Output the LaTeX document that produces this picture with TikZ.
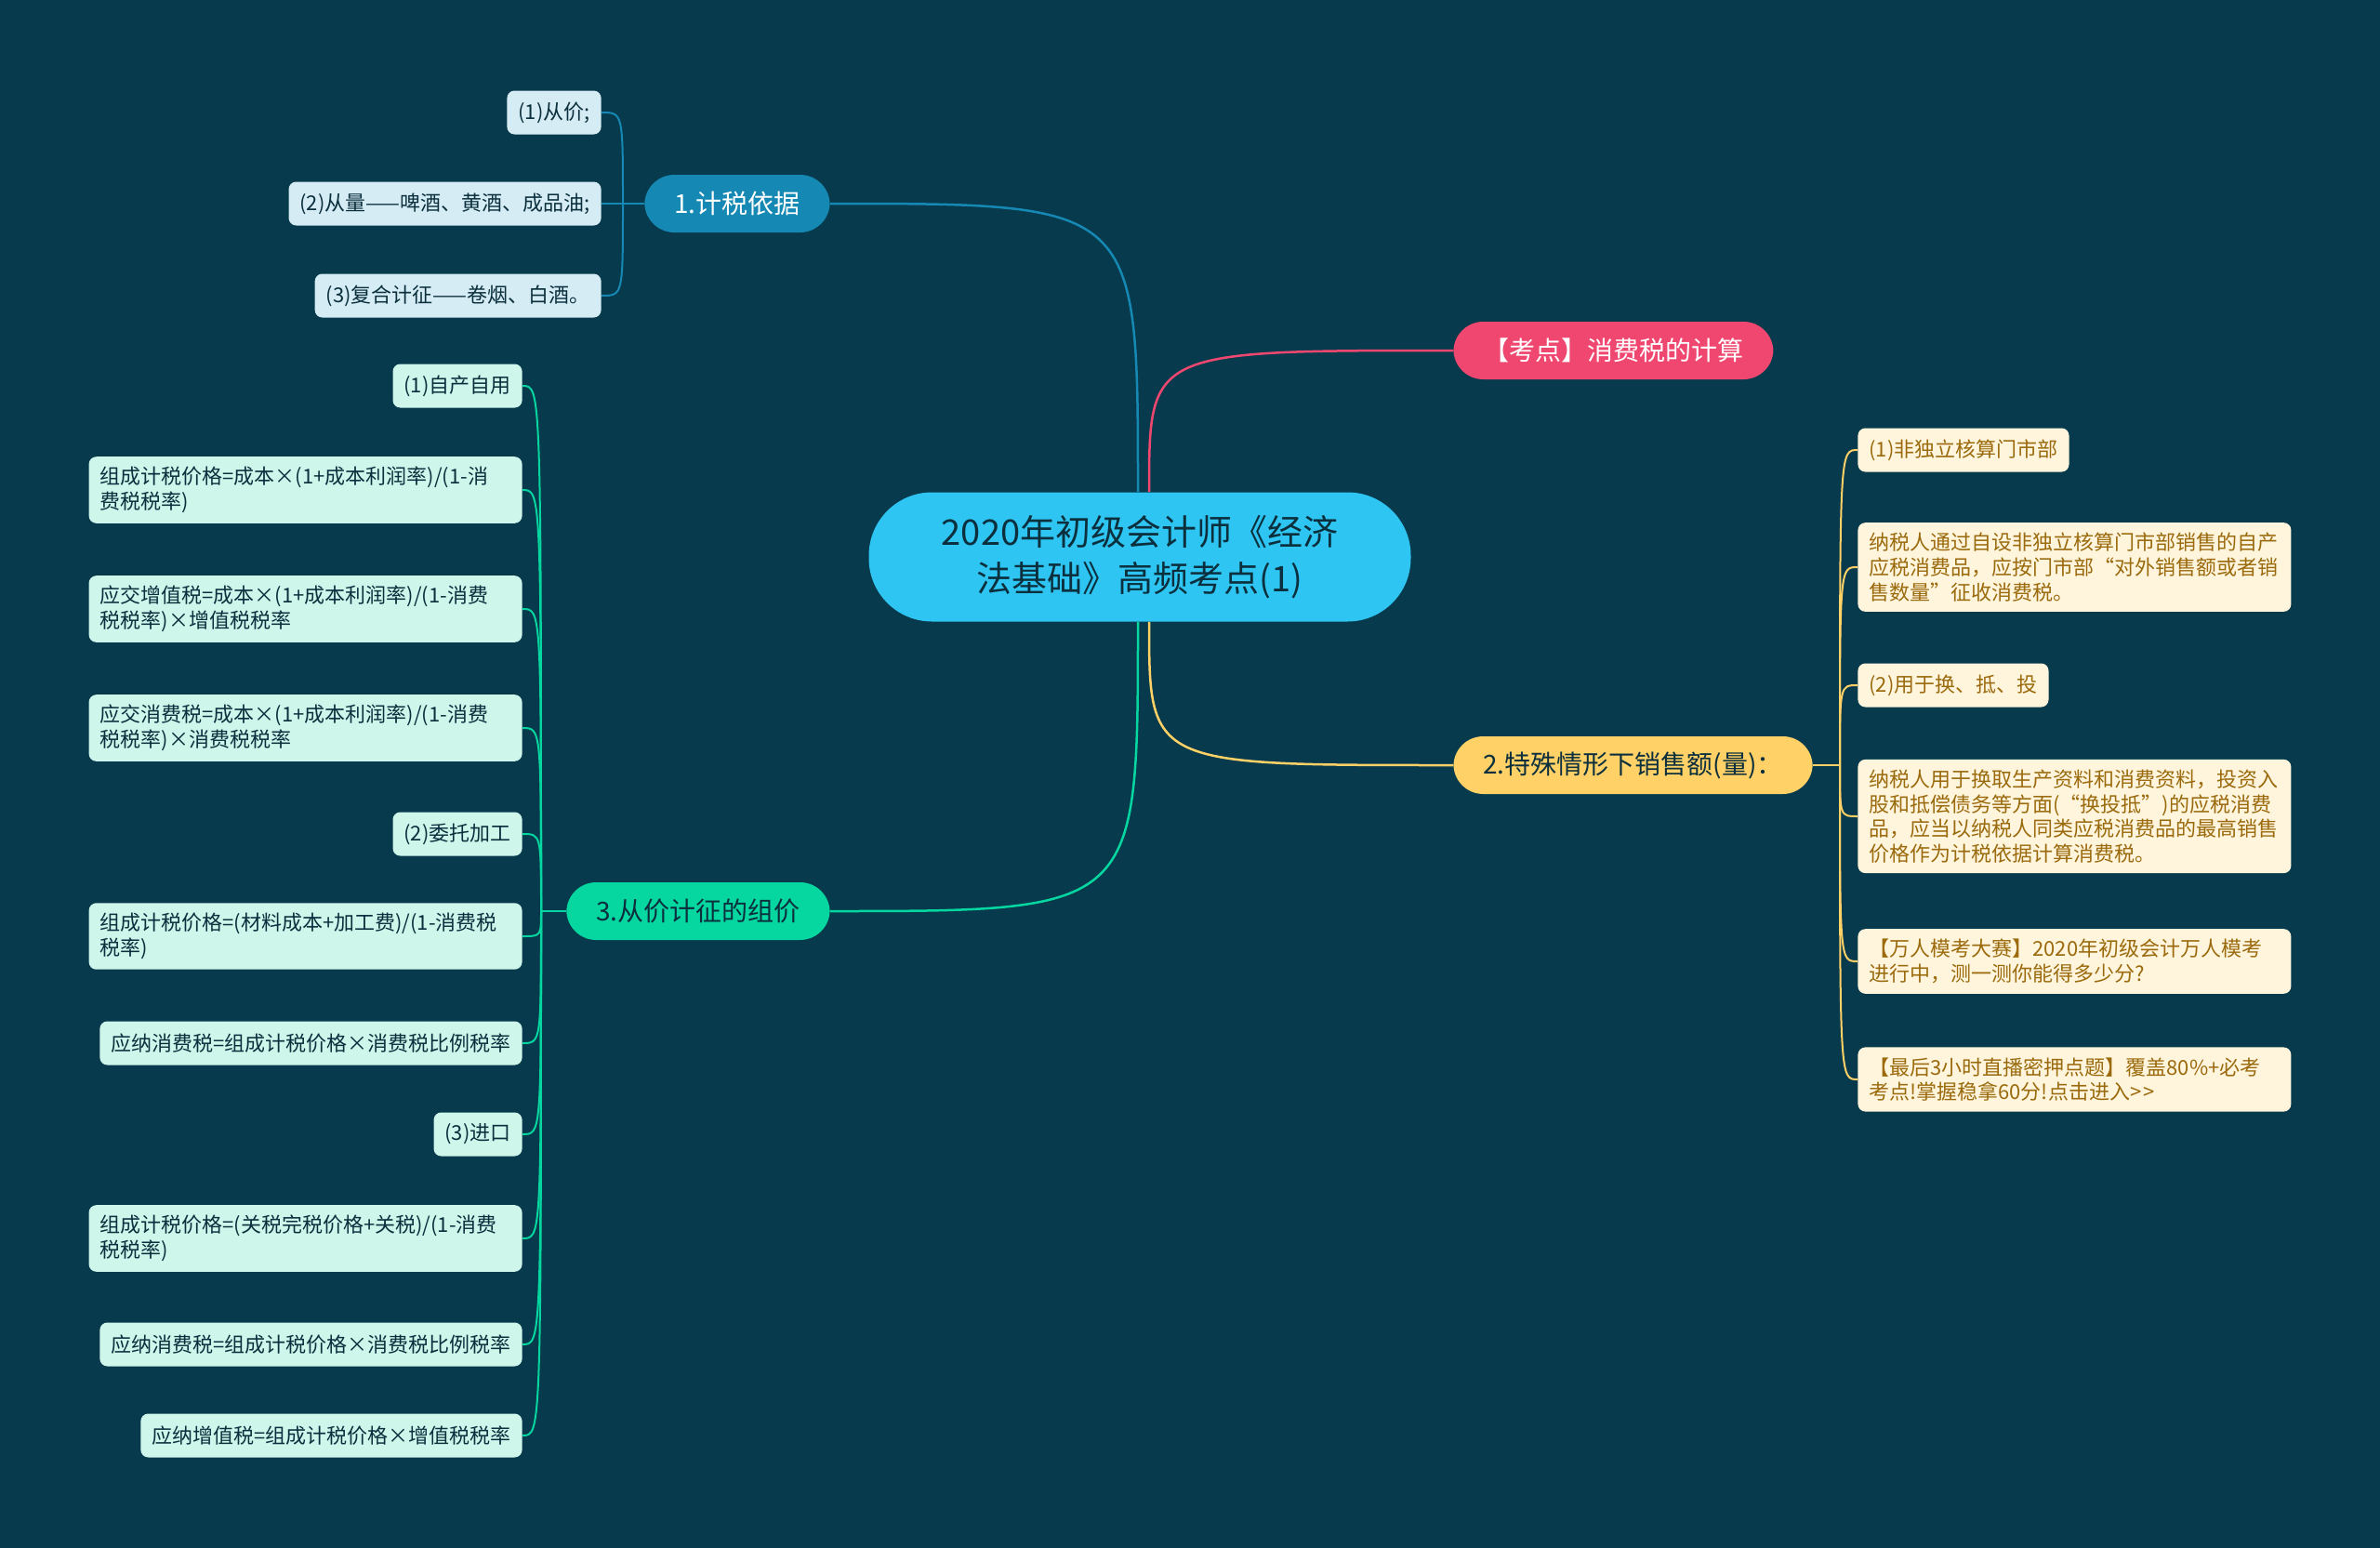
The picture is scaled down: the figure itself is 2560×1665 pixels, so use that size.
\documentclass[tikz,border=0pt]{standalone}
\usepackage{fontspec}
\setmainfont{Noto Sans CJK SC}
\usepackage{tikz}
\usepackage{xcolor}

\definecolor{bgc}{HTML}{073A4C}
\definecolor{rootc}{HTML}{2EC5F2}
\definecolor{inkc}{HTML}{0B2F3D}
\definecolor{bluec}{HTML}{1589B3}
\definecolor{pinkc}{HTML}{EF476F}
\definecolor{yelc}{HTML}{FFD166}
\definecolor{grnc}{HTML}{06D6A0}
\definecolor{blueleaf}{HTML}{D5ECF4}
\definecolor{grnleaf}{HTML}{CFF6EB}
\definecolor{yelleaf}{HTML}{FFF5DD}
\definecolor{goldc}{HTML}{9A6A0C}

\tikzset{
  topic/.style={rounded corners=16pt, minimum height=31pt, inner xsep=16pt,
    font=\fontsize{14pt}{16pt}\selectfont},
  leaf/.style={rounded corners=4pt, minimum height=23.5pt, inner xsep=6pt,
    inner ysep=5.5pt, align=left, font=\fontsize{11pt}{13.3pt}\selectfont},
  wide/.style={text width=221pt},
  link/.style={line width=1.25pt},
  twig/.style={line width=1pt},
}

\begin{document}
\begin{tikzpicture}[x=0.5pt,y=-0.5pt]
  \fill[bgc] (0,0) rectangle (2560,1665);
  \useasboundingbox (0,0) rectangle (2560,1665);

  % centre topic
  \node[fill=rootc, text=inkc, rounded corners=34pt, minimum width=291.5pt,
    minimum height=69.5pt, align=center, font=\fontsize{19pt}{25pt}\selectfont]
    (root) at (1226,599) {2020年初级会计师《经济\\法基础》高频考点(1)};

  % main topics
  \node[topic, fill=bluec, text=white, anchor=east] (jsyj) at (893,219) {1.计税依据};
  \node[topic, fill=pinkc, text=white, anchor=west] (kd) at (1563,377) {【考点】消费税的计算};
  \node[topic, fill=yelc, text=inkc, anchor=west] (tsqx) at (1563,823) {2.特殊情形下销售额(量)：};
  \node[topic, fill=grnc, text=inkc, anchor=east] (cjzj) at (893,980) {3.从价计征的组价};

  \coordinate (rb) at ([xshift=-1pt]root.north);
  \coordinate (rp) at ([xshift=5pt]root.north);
  \coordinate (ry) at ([xshift=5pt]root.south);
  \coordinate (rg) at ([xshift=-1pt]root.south);
  \draw[link, bluec] (rb) .. controls (rb |- jsyj.east) .. (jsyj.east);
  \draw[link, pinkc] (rp) .. controls (rp |- kd.west) .. (kd.west);
  \draw[link, yelc] (ry) .. controls (ry |- tsqx.west) .. (tsqx.west);
  \draw[link, grnc] (rg) .. controls (rg |- cjzj.east) .. (cjzj.east);

  % 1 basis of tax
  \tikzset{every node/.append style={leaf, fill=blueleaf, text=inkc, anchor=east}}
  \node (a1) at (647,121) {(1)从价;};
  \node (a2) at (647,219) {(2)从量——啤酒、黄酒、成品油;};
  \node (a3) at (647,318) {(3)复合计征——卷烟、白酒。};
  \coordinate (j1) at (670,219);
  \draw[twig, bluec] (jsyj.west) -- (j1);
  \foreach \c in {a1,a2,a3}
    \draw[twig, bluec] (j1) .. controls (j1 |- \c.east) .. (\c.east);

  % 3 composite price
  \tikzset{every node/.append style={fill=grnleaf}}
  \node (c1) at (562,415) {(1)自产自用};
  \node[wide] (c2) at (562,527) {组成计税价格=成本×(1+成本利润率)/(1-消\\费税税率)};
  \node[wide] (c3) at (562,655) {应交增值税=成本×(1+成本利润率)/(1-消费\\税税率)×增值税税率};
  \node[wide] (c4) at (562,783) {应交消费税=成本×(1+成本利润率)/(1-消费\\税税率)×消费税税率};
  \node (c5) at (562,897) {(2)委托加工};
  \node[wide] (c6) at (562,1007) {组成计税价格=(材料成本+加工费)/(1-消费税\\税率)};
  \node (c7) at (562,1122) {应纳消费税=组成计税价格×消费税比例税率};
  \node (c8) at (562,1220) {(3)进口};
  \node[wide] (c9) at (562,1332) {组成计税价格=(关税完税价格+关税)/(1-消费\\税税率)};
  \node (c10) at (562,1446) {应纳消费税=组成计税价格×消费税比例税率};
  \node (c11) at (562,1544) {应纳增值税=组成计税价格×增值税税率};
  \coordinate (j3) at (582,980);
  \draw[twig, grnc] (cjzj.west) -- (j3);
  \foreach \c in {c1,c2,c3,c4,c5,c6,c7,c8,c9,c10,c11}
    \draw[twig, grnc] (j3) .. controls (j3 |- \c.east) .. (\c.east);

  % 2 special cases
  \tikzset{every node/.append style={fill=yelleaf, text=goldc, anchor=west}}
  \node (b1) at (1998,484) {(1)非独立核算门市部};
  \node[wide] (b2) at (1998,610) {纳税人通过自设非独立核算门市部销售的自产\\应税消费品，应按门市部“对外销售额或者销\\售数量”征收消费税。};
  \node (b3) at (1998,737) {(2)用于换、抵、投};
  \node[wide] (b4) at (1998,878) {纳税人用于换取生产资料和消费资料，投资入\\股和抵偿债务等方面(“换投抵”)的应税消费\\品，应当以纳税人同类应税消费品的最高销售\\价格作为计税依据计算消费税。};
  \node[wide] (b5) at (1998,1034) {【万人模考大赛】2020年初级会计万人模考\\进行中，测一测你能得多少分?};
  \node[wide] (b6) at (1998,1161) {【最后3小时直播密押点题】覆盖80\%+必考\\考点!掌握稳拿60分!点击进入>\kern1pt>};
  \coordinate (j2) at (1979,823);
  \draw[twig, yelc] (tsqx.east) -- (j2);
  \foreach \c in {b1,b2,b3,b4,b5,b6}
    \draw[twig, yelc] (j2) .. controls (j2 |- \c.west) .. (\c.west);
\end{tikzpicture}
\end{document}
